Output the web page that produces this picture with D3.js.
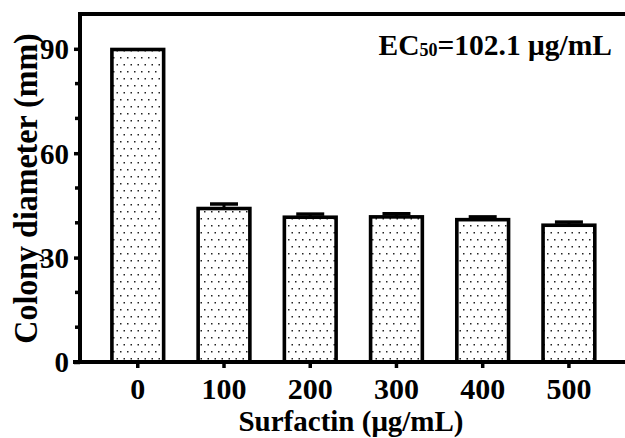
<!DOCTYPE html>
<html>
<head>
<meta charset="utf-8">
<script src="https://cdn.jsdelivr.net/npm/d3@7"></script>
<style>
  body { margin: 0; background: #fff; }
  text { font-family: "Liberation Serif", "Times New Roman", serif; font-weight: bold; fill: #000; }
</style>
</head>
<body>
<svg id="chart"></svg>
<script>
const doses = ['0', '100', '200', '300', '400', '500'];
const diameters = [89.8, 44.1, 41.6, 41.7, 40.9, 39.3];
const errors = [0, 1.3, 0.9, 0.9, 0.8, 0.9];
const yTicks = [0, 30, 60, 90];
const yMinorTicks = [10, 20, 40, 50, 70, 80];

const data = doses.map((d, i) => ({ dose: d, value: diameters[i], err: errors[i] }));

const W = 625, H = 438;
const plotLeft = 80, plotTop = 14, plotBottom = 362, plotRight = 626.7;

const svg = d3.select('#chart').attr('width', W).attr('height', H);

// dotted fill
const pat = svg.append('defs').append('pattern').
  attr('id', 'dots').
  attr('patternUnits', 'userSpaceOnUse').
  attr('width', 7).attr('height', 14);
pat.append('rect').attr('width', 7).attr('height', 14).attr('fill', '#fff');
pat.append('rect').attr('x', 1).attr('y', 1).attr('width', 1.5).attr('height', 1.5).attr('fill', '#222');
pat.append('rect').attr('x', 4.5).attr('y', 8).attr('width', 1.5).attr('height', 1.5).attr('fill', '#222');

const x = d3.scaleBand().
  domain(doses).
  range([plotLeft, plotRight]).
  paddingInner(0.4).
  paddingOuter(0.37);

const y = d3.scaleLinear().domain([0, 100]).range([plotBottom, plotTop]);

// bars
svg.selectAll('.bar').
  data(data).
  enter().
  append('rect').
  attr('class', 'bar').
  attr('x', d => x(d.dose)).
  attr('y', d => y(d.value)).
  attr('width', x.bandwidth()).
  attr('height', d => y(0) - y(d.value)).
  attr('fill', 'url(#dots)').
  attr('stroke', '#000').
  attr('stroke-width', 3.6);

// error bars (upper half only)
const eb = svg.selectAll('.err').
  data(data.filter(d => d.err > 0)).
  enter().
  append('g').
  attr('class', 'err');
eb.append('line').
  attr('x1', d => x(d.dose) + x.bandwidth() / 2).
  attr('x2', d => x(d.dose) + x.bandwidth() / 2).
  attr('y1', d => y(d.value)).
  attr('y2', d => y(d.value + d.err)).
  attr('stroke', '#000').attr('stroke-width', 3);
eb.append('line').
  attr('x1', d => x(d.dose) + x.bandwidth() / 2 - 14).
  attr('x2', d => x(d.dose) + x.bandwidth() / 2 + 14).
  attr('y1', d => y(d.value + d.err)).
  attr('y2', d => y(d.value + d.err)).
  attr('stroke', '#000').attr('stroke-width', 3.5);

// frame top
svg.append('line').
  attr('x1', plotLeft - 2).attr('x2', W).
  attr('y1', plotTop).attr('y2', plotTop).
  attr('stroke', '#000').attr('stroke-width', 4);

// y axis
const yAxis = svg.append('g').
  attr('transform', `translate(${plotLeft},0)`).
  call(d3.axisLeft(y).tickValues(yTicks).tickSize(6).tickPadding(5).tickSizeOuter(0));
yAxis.select('.domain').attr('stroke-width', 4).attr('d', `M0,${plotBottom + 2}V${plotTop - 2}`);
yAxis.selectAll('.tick line').attr('stroke-width', 3.5);
yAxis.selectAll('.tick text').
  attr('font-size', 29).
  attr('dy', '0.34em');
svg.append('g').
  attr('transform', `translate(${plotLeft},0)`).
  selectAll('line').
  data(yMinorTicks).
  enter().
  append('line').
  attr('x1', -5).attr('x2', 0).
  attr('y1', d => y(d)).attr('y2', d => y(d)).
  attr('stroke', '#000').attr('stroke-width', 3.5);

// x axis
const xAxis = svg.append('g').
  attr('transform', `translate(0,${plotBottom})`).
  call(d3.axisBottom(x).tickSize(6).tickSizeOuter(0));
xAxis.select('.domain').attr('stroke-width', 4).attr('d', `M${plotLeft - 7},0H${W}`);
xAxis.selectAll('.tick line').attr('stroke-width', 3.5);
xAxis.selectAll('.tick text').
  attr('font-size', 30).
  attr('y', 37).
  attr('dy', 0);

// axis titles
svg.append('text').
  attr('x', 351).attr('y', 431).
  attr('text-anchor', 'middle').
  attr('font-size', 29).
  text('Surfactin (μg/mL)');

svg.append('g').
  attr('transform', `translate(37,188.5) rotate(-90) scale(1,1.08)`).
  append('text').
  attr('text-anchor', 'middle').
  attr('font-size', 32).
  text('Colony diameter (mm)');

// EC50 annotation
const ann = svg.append('text').
  attr('x', 612).attr('y', 55).
  attr('text-anchor', 'end').
  attr('font-size', 29.5);
ann.append('tspan').text('EC');
ann.append('tspan').attr('font-size', 18).attr('dy', 1).text('50');
ann.append('tspan').attr('dy', -1).text('=102.1 μg/mL');
</script>
</body>
</html>
